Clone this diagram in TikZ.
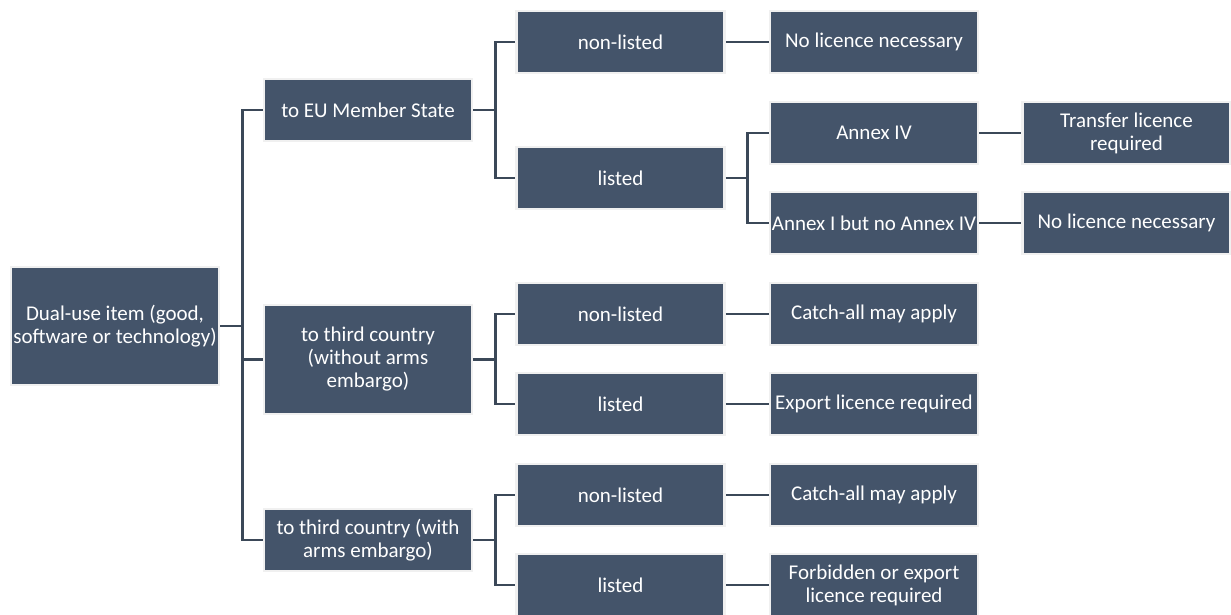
\documentclass[tikz,border=0pt]{standalone}
\usepackage{fontspec}
\setmainfont{Carlito}
\definecolor{slate}{HTML}{44546A}
\definecolor{wire}{HTML}{3B4858}
\begin{document}
\begin{tikzpicture}[x=1pt,y=-1pt,
	box/.style={draw=gray!12,line width=2.5pt,fill=slate,text=white,minimum width=208pt,minimum height=62pt,inner sep=0pt,align=center,font=\fontsize{21}{23}\selectfont},
	wire/.style={draw=wire,line width=2.8pt}]
		\useasboundingbox (0,0) rectangle (1231,615);
		\node[box,minimum height=118pt] (item) at (115,326) {Dual-use item (good,\\software or technology)};
		\foreach \n / \y / \h / \t in {eu/110/62/{to EU Member State},tcw/359.5/109/{to third country\\(without arms\\embargo)},tca/540/62/{to third country (with\\arms embargo)}} { \node[box,minimum height=\h] (\n) at (368,\y) {\t};}
		\foreach \n / \y / \t in {nl1/42/non-listed,l1/178/listed,nl2/314/non-listed,l2/404/listed,nl3/495/non-listed,l3/585/listed} { \node[box] (\n) at (620.5,\y) {\t};}
		\foreach \n / \y / \t in {r1/42/{No licence necessary},a4/133/{Annex IV},a1/223/{Annex I but no Annex IV},r4/314/{Catch-all may apply},r5/404/{Export licence required},r6/495/{Catch-all may apply},r7/585/{Forbidden or export\\licence required}} { \node[box] (\n) at (874,\y) {\t};}
		\foreach \n / \y / \t in {t1/133/{Transfer licence\\required},t2/223/{No licence necessary}} { \node[box] (\n) at (1126.5,\y) {\t};}
		\foreach \a / \b in {item/eu,item/tcw,item/tca,eu/nl1,eu/l1,l1/a4,l1/a1,tcw/nl2,tcw/l2,tca/nl3,tca/l3} { \draw[wire] (\a.east) -- ++(22,0) |- (\b.west);}
		\foreach \a / \b in {nl1/r1,a4/t1,a1/t2,nl2/r4,l2/r5,nl3/r6,l3/r7} { \draw[wire] (\a.east) -- (\b.west);}
	\end{tikzpicture}
\end{document}
